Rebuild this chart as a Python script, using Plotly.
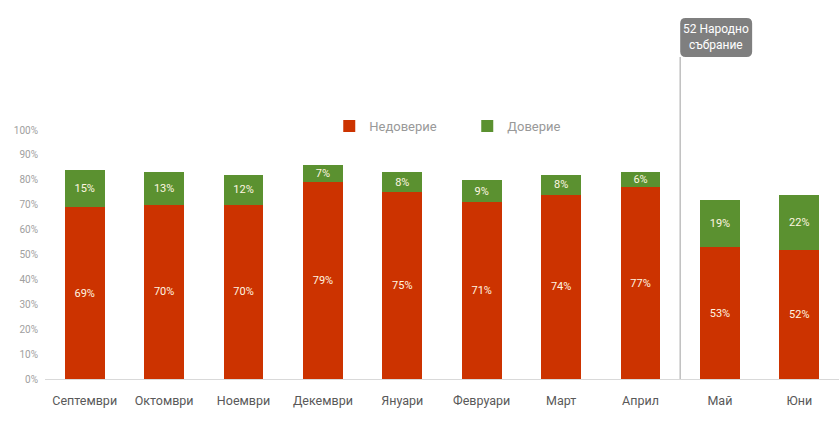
import plotly.graph_objects as go

months = ["Септември", "Октомври", "Ноември", "Декември", "Януари", "Февруари", "Март", "Април", "Май", "Юни"]
distrust = [69, 70, 70, 79, 75, 71, 74, 77, 53, 52]
trust = [15, 13, 12, 7, 8, 9, 8, 6, 19, 22]
y_ticks = [0, 10, 20, 30, 40, 50, 60, 70, 80, 90, 100]

RED = "#cc3300"
GREEN = "#5b9130"
FONT = "Roboto"

fig = go.Figure()
fig.add_trace(go.Bar(
    x=months, y=distrust, name="Недоверие", marker=dict(color=RED, line=dict(width=0)),
    text=[f"{v}%" for v in distrust], textposition="inside", insidetextanchor="middle",
    textangle=0, constraintext="none",
    textfont=dict(color="#fff6e0", size=11, family=FONT),
))
fig.add_trace(go.Bar(
    x=months, y=trust, name="Доверие", marker=dict(color=GREEN, line=dict(width=0)),
    text=[f"{v}%" for v in trust], textposition="inside", insidetextanchor="middle",
    textangle=0, constraintext="none",
    textfont=dict(color="#fff6e0", size=11, family=FONT),
))

fig.update_layout(
    barmode="stack",
    bargap=0.5,
    width=840, height=439,
    margin=dict(l=45, r=1, t=130, b=60),
    paper_bgcolor="white", plot_bgcolor="white",
    font=dict(family=FONT, color="#595959"),
    showlegend=True,
    legend=dict(orientation="h", x=0.358, y=1.016, xanchor="left", yanchor="middle",
                entrywidth=93, entrywidthmode="pixels", itemwidth=30,
                font=dict(size=13, color="#999999", family=FONT),
                itemclick=False, bgcolor="rgba(0,0,0,0)", traceorder="normal",
                itemsizing="constant"),
    yaxis=dict(range=[0, 100], tickvals=y_ticks, ticktext=[f"{v}%" for v in y_ticks],
               showgrid=False, zeroline=False, showline=False,
               tickfont=dict(size=10, color="#a0a0a0", family=FONT), ticks="",
               ticklabelstandoff=6),
    xaxis=dict(showgrid=False, showline=True, linecolor="#d9d9d9", linewidth=1,
               tickfont=dict(size=12.5, color="#595959", family=FONT), ticks="",
               ticklabelstandoff=10),
)

# separator line between Април and Май
fig.add_shape(type="line", xref="x", yref="paper", x0=7.5, x1=7.5, y0=0, y1=1.293,
              line=dict(color="#bfbfbf", width=1.5))
# rounded box behind the annotation
x0, x1 = 7.5, 8.406
y0, y1 = 1.293, 1.450
rx, ry = 0.07, 0.022
path = (f"M {x0+rx},{y0} L {x1-rx},{y0} Q {x1},{y0} {x1},{y0+ry} L {x1},{y1-ry} "
        f"Q {x1},{y1} {x1-rx},{y1} L {x0+rx},{y1} Q {x0},{y1} {x0},{y1-ry} "
        f"L {x0},{y0+ry} Q {x0},{y0} {x0+rx},{y0} Z")
fig.add_shape(type="path", xref="x", yref="paper", path=path,
              fillcolor="#7f7f7f", line=dict(width=0), layer="above")
fig.add_annotation(xref="x", yref="paper", x=(x0 + x1) / 2, y=(y0 + y1) / 2,
                   xanchor="center", yanchor="middle",
                   text="52 Народно<br>събрание", showarrow=False,
                   font=dict(color="white", size=12, family=FONT), align="center")

fig.write_html("out.html")
